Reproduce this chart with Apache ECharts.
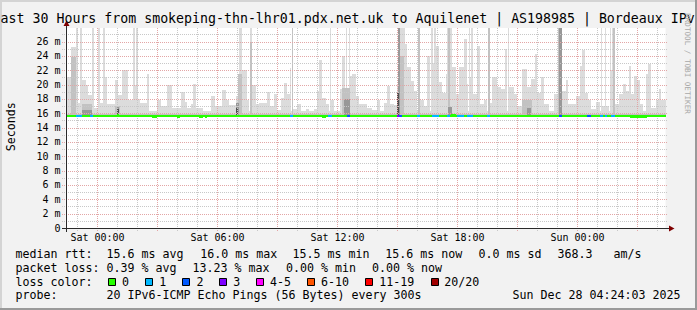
<!DOCTYPE html>
<html><head><meta charset="utf-8">
<script src="https://cdn.jsdelivr.net/npm/echarts@6/dist/echarts.min.js"></script>
<style>html,body{margin:0;padding:0;background:#f2f2f2}#c{width:697px;height:310px}</style>
</head><body><div id="c"></div>
<script>
// ---- DATA (time = minutes since window start, Fri Dec 26 22:24:03; values in ms) ----
const windowMinutes = 1800;
const xTickLabels = ['Sat 00:00', 'Sat 06:00', 'Sat 12:00', 'Sat 18:00', 'Sun 00:00'];
const xTickMinutes = [95.95, 455.95, 815.95, 1175.95, 1535.95];
const firstHourMinute = 35.95; // Fri 23:00
const yMaxMs = 27.9;
const yTickValues = [0, 2, 4, 6, 8, 10, 12, 14, 16, 18, 20, 22, 24, 26];
const yTickLabels = ['0', '2 m', '4 m', '6 m', '8 m', '10 m', '12 m', '14 m', '16 m', '18 m', '20 m', '22 m', '24 m', '26 m'];

// smoke: [start, end, top ms]
const smokeLight = [
 [0,1800,16.3],
 [2,17,21.0],[17,30,25.3],[31,36,27.9],[37,43,17.5],[44,49,27.9],[50,62,20.6],[62,68,20.0],[68,80,18.5],[80,84,27.9],[85,97,16.8],[98,102,27.9],[103,111,17.5],[112,118,27.9],[119,125,21.0],[125,149,17.3],[149,158,20.7],[158,170,18.5],[170,188,22.0],[188,202,17.8],[202,208,27.9],[208,210,20.0],[210,216,27.9],[216,224,18.0],[224,245,17.5],[245,251,21.5],[251,275,16.2],[275,287,17.8],[287,305,17.0],
 [305,320,20.0],[320,347,16.8],[347,359,19.0],[359,365,17.6],[365,377,16.7],[377,383,17.3],[383,392,20.1],[392,413,16.7],[413,437,16.2],[437,449,18.4],[449,470,17.0],[470,482,19.2],[482,491,17.8],[491,512,17.2],[512,518,18.4],[519,528,27.9],[530,545,22.0],[545,551,17.8],[552,559,27.9],[560,572,20.0],[572,581,17.3],[581,605,17.5],
 [605,614,19.0],[614,626,17.0],[626,635,18.7],[635,647,16.4],[647,656,18.1],[656,665,20.2],[665,674,18.7],[674,677,22.3],[678,682,27.9],[683,695,16.6],[695,707,17.3],[707,722,16.3],[722,731,16.6],[731,746,16.3],[746,755,16.6],[755,761,19.1],[761,770,23.4],[770,782,18.1],[782,791,17.3],[792,796,27.9],[797,806,17.8],[806,824,16.3],[824,830,19.4],[830,839,24.0],[840,844,27.9],[845,848,19.0],[849,853,27.9],[854,860,21.2],[860,872,21.5],[872,881,18.4],[881,905,17.3],
 [905,920,16.8],[920,935,16.5],[935,944,17.9],[944,956,16.3],[956,965,17.5],[965,974,19.8],[974,986,17.3],[986,995,17.2],[995,1001,20.0],[1001,1019,27.9],[1019,1025,25.6],[1025,1037,22.4],[1037,1046,20.5],[1046,1055,19.1],[1056,1063,27.9],[1064,1076,17.8],[1076,1085,17.0],[1085,1094,24.0],[1095,1101,27.9],[1101,1104,23.0],[1104,1111,27.9],[1112,1121,25.4],[1121,1130,20.3],[1130,1142,18.9],[1142,1145,21.5],[1145,1160,27.9],[1160,1172,22.4],[1172,1181,18.7],[1181,1196,22.4],
 [1196,1205,26.3],[1205,1208,20.1],[1209,1214,27.9],[1214,1217,21.0],[1217,1222,27.9],[1223,1235,18.7],[1235,1244,25.4],[1244,1256,17.3],[1256,1265,17.8],[1266,1273,27.9],[1274,1280,17.5],[1280,1295,21.0],[1295,1307,19.6],[1307,1319,19.4],[1319,1325,25.0],[1326,1330,27.9],[1331,1346,19.6],[1346,1355,18.7],[1355,1370,17.0],[1370,1385,22.2],[1385,1397,19.6],[1397,1409,20.8],[1409,1415,24.3],[1415,1427,18.9],[1427,1436,21.0],[1436,1451,17.3],[1451,1466,16.3],[1466,1478,18.7],[1478,1490,27.9],[1490,1502,19.1],
 [1502,1508,20.7],[1508,1532,17.3],[1532,1544,18.4],[1544,1550,22.6],[1550,1559,24.8],[1559,1568,18.9],[1568,1577,17.8],[1577,1592,16.6],[1592,1604,17.6],[1605,1609,27.9],[1610,1619,17.0],[1619,1622,27.9],[1622,1631,17.0],[1632,1637,27.9],[1637,1640,22.0],[1640,1649,27.9],[1649,1661,17.3],[1661,1673,18.7],[1673,1682,20.1],[1682,1691,19.1],[1691,1697,22.6],[1697,1706,18.7],[1706,1715,21.2],[1715,1724,20.7],[1724,1733,17.3],[1733,1742,16.1],[1742,1748,21.5],[1748,1757,22.9],[1757,1772,16.8],[1772,1781,17.9],[1781,1787,19.4],[1787,1800,17.8]
];
const smokeMid = [
 [0,1800,15.85],[17,30,23.8],[50,80,17.3],[149,164,17.0],[518,530,21.5],[552,559,26.0],[678,682,27.9],[830,854,19.5],[1004,1016,24.0],[1056,1063,27.9],[1146,1153,27.9],[1266,1273,27.9],[1370,1400,17.8],[1478,1490,27.9],[1641,1648,27.9]
];
const smokeDark = [
 [50,80,16.5],[155,161,17.0],[512,521,17.5],[836,854,18.0],[998,1004,27.9],[1148,1160,16.9],[1385,1397,16.8],[1481,1489,27.9]
];
const smokeDarkest = [[995,1001,19.0],[155,159,16.6],[512,516,16.7]];

// median rtt: [start, end, ms, lost pings]
const medianRtt = [
 [0,1800,15.6,0],
 [260,275,15.45,0],[335,344,15.45,0],[401,413,15.45,0],[419,425,15.45,0],[770,782,15.45,0],[1694,1745,15.45,0],
 [155,161,15.75,0],[1157,1172,15.75,0],
 [30,50,15.6,1],[74,83,15.6,1],[674,683,15.6,1],[788,800,15.6,1],[845,854,15.6,2],[995,1001,15.6,3],[1001,1010,15.6,2],[1055,1064,15.6,1],[1100,1121,15.6,1],[1145,1154,15.6,1],[1175,1196,15.6,1],[1205,1223,15.6,1],[1265,1274,15.6,1],[1481,1490,15.6,2],[1565,1577,15.6,2],[1604,1613,15.6,1],[1619,1625,15.6,1],[1637,1649,15.6,1]
];

const titleText = 'ast 30 Hours from smokeping-thn-lhr01.pdx.net.uk to Aquilenet | AS198985 | Bordeaux IPv';
const yAxisName = 'Seconds';
const watermark = 'RRDTOOL / TOBI OETIKER';
const rttLabel = 'median rtt:';
const rttStats = ['15.6 ms avg', '16.0 ms max', '15.5 ms min', '15.6 ms now', '0.0 ms sd', '368.3', 'am/s'];
const lossLabel = 'packet loss:';
const lossStats = ['0.39 % avg', '13.23 % max', '0.00 % min', '0.00 % now'];
const lossColorLabel = 'loss color:';
const lossNames = ['0', '1', '2', '3', '4-5', '6-10', '11-19', '20/20'];
const lossColors = ['#26ff00', '#00b8ff', '#0059ff', '#7e00ff', '#ff00ff', '#ff5500', '#ff0000', '#a10000'];
const probeLabel = 'probe:';
const probeText = '20 IPv6-ICMP Echo Pings (56 Bytes) every 300s';
const stampText = 'Sun Dec 28 04:24:03 2025';

// ---- LAYOUT / STYLE ----
const MONO = '"DejaVu Sans Mono", monospace';
const fLegend = '11.63px ' + MONO;
const fAxis = '10px ' + MONO;
const hourMarks = [];
for (let m = firstHourMinute, k = 0; m < windowMinutes; m += 60, k++) hourMarks.push([m, (k % 3 === 1) ? 1 : 0]);
const yGridVals = [];
for (let v = 1; v <= 27; v++) yGridVals.push([v, v % 2 === 0 ? 1 : 0]);

function lossIndex(n) { if (n <= 3) return n; if (n <= 5) return 4; if (n <= 10) return 5; if (n <= 19) return 6; return 7; }

function smokeSeries(data, color, z) {
  return {
    type: 'custom', coordinateSystem: 'cartesian2d', z: z, silent: true, clip: true,
    encode: { x: [0, 1], y: 2 }, data: data,
    renderItem: function (p, api) {
      const a = api.coord([api.value(0), api.value(2)]);
      const b = api.coord([api.value(1), 15.5]);
      const x0 = Math.round(a[0]), x1 = Math.round(b[0]);
      const y0 = Math.round(a[1]), y1 = Math.round(b[1]);
      return { type: 'rect', shape: { x: x0, y: y0, width: Math.max(1, x1 - x0), height: y1 - y0 }, style: { fill: color } };
    }
  };
}

const chart = echarts.init(document.getElementById('c'), null, { renderer: 'svg', width: 697, height: 310 });
const gLeft = 65.5, gTop = 28;
const texts = [];
function T(text, x, y, font, extra) {
  texts.push(Object.assign({ type: 'text', z: 50, silent: true, style: { text: text, x: x, y: y, font: font, fill: '#000', align: 'left', verticalAlign: 'middle' } }, extra || {}));
}
T(titleText, 0.6, 18.4, '13.25px ' + MONO);
const rowY = [253.5, 267.5, 281.5, 295.3];
T(rttLabel, 15.5, rowY[0], fLegend);
const rttX = [106.6, 200.3, 292.6, 385.3, 478.6, 557.6, 613.6];
rttStats.forEach((s, i) => T(s, rttX[i], rowY[0], fLegend));
T(lossLabel, 15.5, rowY[1], fLegend);
const lossX = [106.6, 192.6, 286, 372];
lossStats.forEach((s, i) => T(s, lossX[i], rowY[1], fLegend));
T(lossColorLabel, 15.5, rowY[2], fLegend);
const boxX = [108, 145, 182, 219, 256, 307, 365, 431];
const boxLabelX = [122, 159.3, 196.6, 233.3, 270, 321, 379.3, 444.3];
lossNames.forEach((s, i) => {
  texts.push({ type: 'rect', z: 50, silent: true, shape: { x: boxX[i] + 0.5, y: 278.5, width: 7, height: 7 }, style: { fill: lossColors[i], stroke: '#000', lineWidth: 1 } });
  T(s, boxLabelX[i], rowY[2], fLegend);
});
T(probeLabel, 15.5, rowY[3], fLegend);
T(probeText, 106.6, rowY[3], fLegend);
T(stampText, 512.6, rowY[3], fLegend);
texts.push({ type: 'text', z: 50, silent: true, x: 10.8, y: 126.7, rotation: Math.PI / 2, style: { text: yAxisName, font: fLegend, fill: '#000', align: 'center', verticalAlign: 'middle' } });
texts.push({ type: 'text', z: 50, silent: true, x: 687.5, y: 63.5, rotation: -Math.PI / 2, style: { text: watermark, font: '7.6px ' + MONO, fill: '#a8a8a8', align: 'center', verticalAlign: 'middle' } });

const deco = [
  { type: 'rect', z: 40, silent: true, shape: { x: 0, y: 0, width: 697, height: 2 }, style: { fill: '#d4d4d4' } },
  { type: 'rect', z: 40, silent: true, shape: { x: 0, y: 0, width: 2, height: 310 }, style: { fill: '#d4d4d4' } },
  { type: 'rect', z: 41, silent: true, shape: { x: 0, y: 308, width: 697, height: 2 }, style: { fill: '#9a9a9a' } },
  { type: 'rect', z: 41, silent: true, shape: { x: 695, y: 0, width: 2, height: 310 }, style: { fill: '#9a9a9a' } },
  { type: 'line', z: 45, silent: true, shape: { x1: 66.5, y1: 24, x2: 66.5, y2: 232 }, style: { stroke: '#2a2a2a', lineWidth: 1 } },
  { type: 'line', z: 45, silent: true, shape: { x1: 62, y1: 228.5, x2: 670, y2: 228.5 }, style: { stroke: '#2a2a2a', lineWidth: 1 } },
  { type: 'polygon', z: 46, silent: true, shape: { points: [[63.5, 26], [69.5, 26], [66.5, 20.5]] }, style: { fill: '#7f0000' } },
  { type: 'polygon', z: 46, silent: true, shape: { points: [[669, 225.5], [669, 231.5], [674.5, 228.5]] }, style: { fill: '#7f0000' } }
];

chart.setOption({
  animation: false,
  backgroundColor: '#f2f2f2',
  grid: { left: gLeft, top: gTop, width: 600, height: 200, show: true, backgroundColor: '#ffffff', borderWidth: 0 },
  xAxis: { type: 'value', min: 0, max: windowMinutes, axisLine: { show: false }, axisTick: { show: false }, axisLabel: { show: false }, splitLine: { show: false } },
  yAxis: {
    type: 'value', min: 0, max: yMaxMs, interval: 2,
    axisLine: { show: false }, axisTick: { show: false }, splitLine: { show: false },
    axisLabel: { margin: 5, showMaxLabel: false, color: '#000', fontFamily: MONO, fontSize: 10,
      formatter: function (v) { const i = yTickValues.indexOf(v); return i >= 0 ? yTickLabels[i] : ''; } }
  },
  graphic: deco.concat(texts),
  series: [
    smokeSeries(smokeLight, '#dcdcdc', 2),
    smokeSeries(smokeMid, '#c2c2c2', 3),
    smokeSeries(smokeDark, '#989898', 4),
    smokeSeries(smokeDarkest, '#505050', 5),
    {
      type: 'custom', z: 6, silent: true, clip: false, data: hourMarks, encode: { x: 0 },
      renderItem: function (p, api) {
        const a = api.coord([api.value(0), yMaxMs]); const b = api.coord([api.value(0), 0]);
        const x = Math.round(a[0]) + 0.5;
        return { type: 'line', shape: { x1: x, y1: Math.round(a[1]), x2: x, y2: Math.round(b[1]) + 4 },
          style: { stroke: api.value(1) ? '#e3a6a6' : '#c8c8c8', lineWidth: 1, lineDash: [1, 1] } };
      }
    },
    {
      type: 'custom', z: 6, silent: true, clip: false, data: yGridVals, encode: { y: 0 },
      renderItem: function (p, api) {
        const a = api.coord([0, api.value(0)]); const b = api.coord([windowMinutes, api.value(0)]);
        const y = Math.round(a[1]) + 0.5;
        return { type: 'line', shape: { x1: Math.round(a[0]) - 4, y1: y, x2: Math.round(b[0]) + 1, y2: y },
          style: { stroke: api.value(1) ? '#e3a6a6' : '#c8c8c8', lineWidth: 1, lineDash: [1, 1] } };
      }
    },
    {
      type: 'custom', z: 8, silent: true, clip: true, data: medianRtt, encode: { x: [0, 1], y: 2 },
      renderItem: function (p, api) {
        const a = api.coord([api.value(0), api.value(2)]); const b = api.coord([api.value(1), api.value(2)]);
        const x0 = Math.round(a[0]), x1 = Math.round(b[0]);
        return { type: 'rect', shape: { x: x0, y: Math.round(a[1]) - 1, width: x1 - x0, height: 2 }, style: { fill: lossColors[lossIndex(api.value(3))] } };
      }
    },
    {
      type: 'custom', z: 9, silent: true, clip: false, data: xTickMinutes.map((m, i) => [m, i]), encode: { x: 0 },
      renderItem: function (p, api) {
        const a = api.coord([api.value(0), 0]);
        return { type: 'text', style: { text: xTickLabels[api.value(1)], x: Math.round(a[0]) + 0.5, y: 237.2, align: 'center', verticalAlign: 'middle', font: fAxis, fill: '#000' } };
      }
    }
  ]
});
</script></body></html>
